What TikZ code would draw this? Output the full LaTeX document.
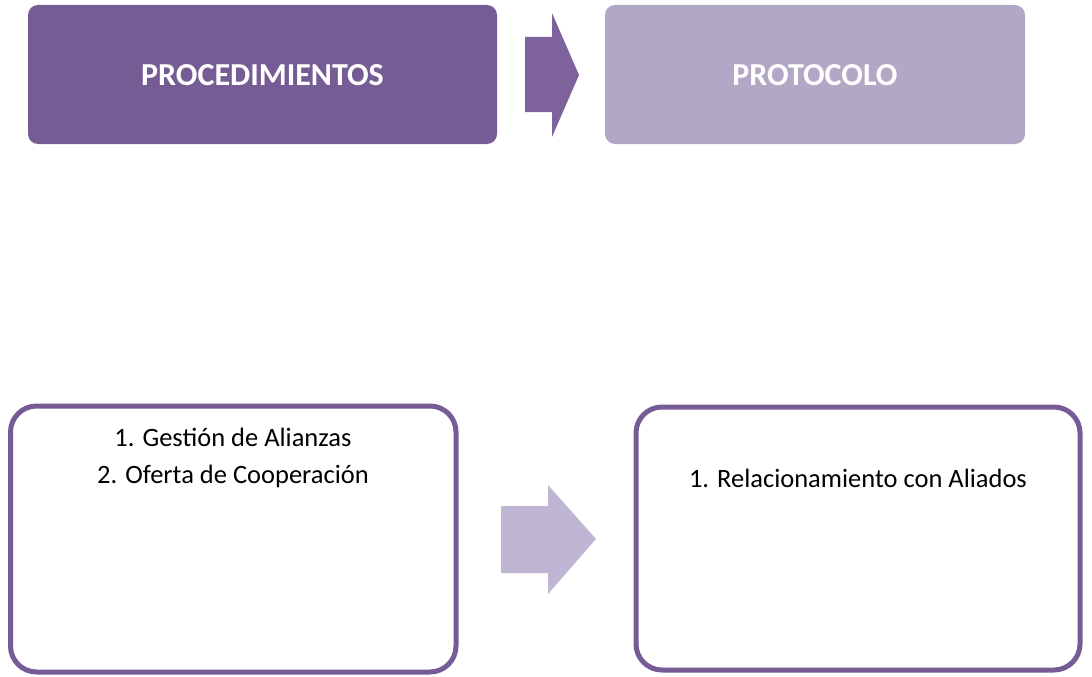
\documentclass[tikz,border=0pt]{standalone}
\usepackage{fontspec}
\setmainfont{Carlito}
\definecolor{darkp}{HTML}{765C94}
\definecolor{lightp}{HTML}{B2A7C5}
\definecolor{arrowd}{HTML}{7E629C}
\definecolor{arrowl}{HTML}{BFB6D3}
\definecolor{borderp}{HTML}{765B96}
\tikzset{
  topbox/.style={rounded corners=10pt, draw=none},
  botbox/.style={rounded corners=26pt, draw=borderp, line width=5pt, fill=white},
  toplabel/.style={text=white, font=\fontsize{32}{38}\selectfont\bfseries},
  botlabel/.style={text=black, font=\fontsize{26.5}{31}\selectfont},
}
\begin{document}
\begin{tikzpicture}[x=1pt,y=-1pt]
\useasboundingbox (0,0) rectangle (1092,677);
% top boxes
\path[topbox, fill=darkp] (28,5) rectangle (497,144);
\node[toplabel] (proc) at (262.5,75) {PROCEDIMIENTOS};
\path[topbox, fill=lightp] (605,5) rectangle (1025,144);
\node[toplabel] (prot) at (815,75) {PROTOCOLO};
% top arrow
\fill[arrowd] (525,37) -- (552,37) -- (552,13) -- (579,75) -- (552,137) -- (552,112) -- (525,112) -- cycle;
% bottom boxes
\draw[botbox] (10.5,406) rectangle (456,672);
\node[botlabel] (g1) at (233,437) {1. Gestión de Alianzas};
\node[botlabel] (g2) at (233,476) {2. Oferta de Cooperación};
\draw[botbox] (636,407) rectangle (1080,670);
\node[botlabel] (r1) at (858,478) {1. Relacionamiento con Aliados};
% bottom arrow
\fill[arrowl] (501,506) -- (548,506) -- (548,485) -- (596,539) -- (548,594) -- (548,573) -- (501,573) -- cycle;
\end{tikzpicture}
\end{document}
